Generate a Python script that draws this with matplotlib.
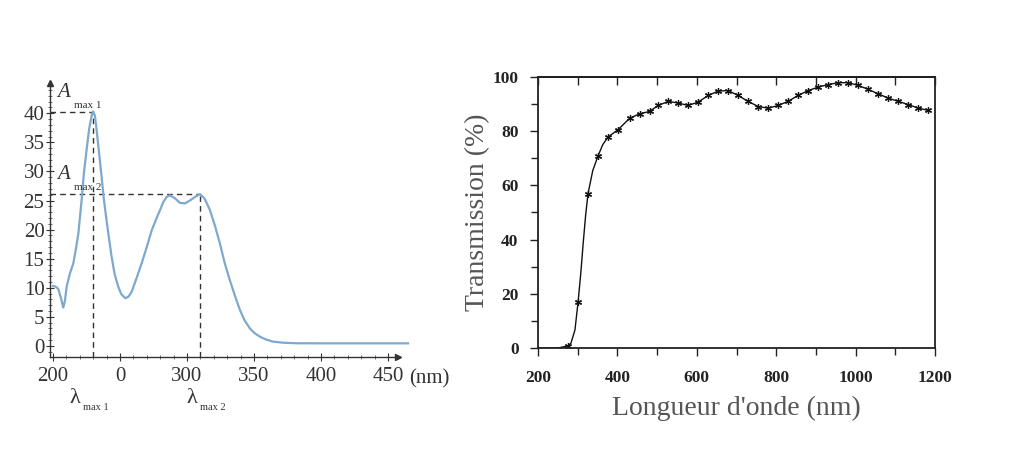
import matplotlib
matplotlib.use("Agg")
import matplotlib.pyplot as plt
from matplotlib.ticker import MultipleLocator

plt.rcParams['font.family'] = ['Liberation Serif', 'DejaVu Serif']
plt.rcParams['mathtext.fontset'] = 'stix'

# ---- Left chart data (absorbance spectrum) ----
abs_wl = [200, 202, 204, 206, 207.7, 209, 210.2, 212.7, 215.2, 217, 219, 221.4, 223,
          225.1, 227, 228.9, 230, 231.3, 232.6, 234.5, 236.3, 238, 240, 242, 243.8,
          246, 248.7, 251, 254, 256.5, 258.7, 262, 266.2, 270, 273.6, 277, 279.8,
          282.5, 284.8, 287.3, 291, 294.7, 298.5, 302.2, 306, 309.7, 313, 317.1,
          321, 324.6, 328, 332, 336, 339.5, 343, 347, 350.5, 354.4, 359, 364.3,
          372, 381.8, 400, 430, 465]
abs_val = [10.3, 10.2, 9.8, 8.2, 6.6, 7.8, 10.2, 12.5, 14.2, 16.5, 19.4, 25.1, 29.5,
           33.7, 37.3, 39.6, 40.3, 39.6, 37.1, 33.0, 29.1, 25.2, 21.6, 18.2, 15.3,
           12.4, 10.2, 8.9, 8.2, 8.5, 9.3, 11.4, 14.2, 17.0, 19.8, 21.8, 23.3, 24.8,
           25.6, 25.9, 25.4, 24.6, 24.5, 25.0, 25.6, 26.1, 25.4, 23.4, 20.6, 17.6,
           14.4, 11.3, 8.5, 6.2, 4.4, 3.0, 2.2, 1.6, 1.1, 0.74, 0.55, 0.46, 0.45,
           0.45, 0.45]
abs_xticks = [200, 250, 300, 350, 400, 450]
abs_xticklabels = ["200", "0", "300", "350", "400", "450"]
abs_yticks = [0, 5, 10, 15, 20, 25, 30, 35, 40]
lam_max1, A_max1 = 230, 40.3
lam_max2, A_max2 = 309.7, 26.2

# ---- Right chart data (transmission spectrum) ----
tr_wl = [200, 250, 276, 283, 293, 301, 308, 314, 320, 326, 338, 351, 363, 376, 402,
         431, 456, 481, 503, 528, 553, 578, 603, 629, 654, 679, 704, 729, 755, 780,
         805, 830, 855, 881, 906, 931, 956, 981, 1007, 1032, 1057, 1082, 1108,
         1133, 1158, 1183]
tr_val = [0, 0, 0.8, 1.8, 6.6, 17.0, 28, 39, 49, 57.0, 65.5, 70.8, 75, 77.8, 80.6,
          84.8, 86.4, 87.3, 89.5, 91, 90.4, 89.5, 90.7, 93.2, 94.8, 95, 93.2, 91,
          89.1, 88.5, 89.5, 91, 93.2, 95, 96.3, 97.2, 97.9, 97.9, 96.9, 95.4, 93.8,
          92.2, 91, 89.8, 88.5, 87.7]
tr_marked = [2, 5, 9, 11, 13] + list(range(14, len(tr_wl)))

fig = plt.figure(figsize=(10.26, 4.61), dpi=100)
W, H = 1026, 461

# ---------------- Left axes ----------------
lx0, lx1, ly_top, ly_bot = 50, 398, 83, 357
ax1 = fig.add_axes([lx0 / W, (H - ly_bot) / H, (lx1 - lx0) / W, (ly_bot - ly_top) / H])
ax1.set_xlim(197.8, 457.5)
ax1.set_ylim(-1.9, 45.2)
for s in ['top', 'right']:
    ax1.spines[s].set_visible(False)
for s in ['left', 'bottom']:
    ax1.spines[s].set_color('#333333')
    ax1.spines[s].set_linewidth(1.0)
ax1.plot(1, 0, '>', color='#333333', markersize=5, transform=ax1.transAxes, clip_on=False)
ax1.plot(0, 1, '^', color='#333333', markersize=5, transform=ax1.transAxes, clip_on=False)

ax1.plot(abs_wl, abs_val, color='#7ea9cf', lw=1.6, clip_on=False, zorder=3,
         solid_joinstyle='round')

ax1.set_xticks(abs_xticks)
ax1.set_xticklabels(abs_xticklabels)
ax1.set_yticks(abs_yticks)
ax1.xaxis.set_minor_locator(MultipleLocator(10))
ax1.yaxis.set_minor_locator(MultipleLocator(1))
ax1.tick_params(axis='both', which='major', direction='inout', length=6, width=0.8,
                colors='#333333', labelsize=15, labelcolor='#333333')
ax1.tick_params(axis='x', which='major', pad=4)
ax1.tick_params(axis='y', which='major', pad=1)
ax1.tick_params(axis='both', which='minor', direction='inout', length=3, width=0.6,
                colors='#555555')

dash = dict(color='#333333', lw=1.0, ls=(0, (4, 3)))
ax1.plot([197.8, lam_max1], [A_max1, A_max1], **dash)
ax1.plot([lam_max1, lam_max1], [-1.9, A_max1], **dash)
ax1.plot([197.8, lam_max2], [A_max2, A_max2], **dash)
ax1.plot([lam_max2, lam_max2], [-1.9, A_max2], **dash)

tc = '#333333'
ax1.text(203.5, 43.6, 'A', fontsize=15, style='italic', color=tc, va='center')
ax1.text(215.5, 41.3, 'max 1', fontsize=8, color=tc, va='center')
ax1.text(203.5, 29.4, 'A', fontsize=15, style='italic', color=tc, va='center')
ax1.text(215.5, 27.3, 'max 2', fontsize=8, color=tc, va='center')
ax1.text(481, -5.6, '(nm)', fontsize=15, color=tc, ha='center', va='center',
         clip_on=False)
ax1.text(216.4, -9.0, 'λ', fontsize=16, color=tc, ha='center', va='center',
         clip_on=False)
ax1.text(222.4, -10.6, 'max 1', fontsize=7.5, color=tc, va='center', clip_on=False)
ax1.text(303.7, -9.0, 'λ', fontsize=16, color=tc, ha='center', va='center',
         clip_on=False)
ax1.text(309.7, -10.6, 'max 2', fontsize=7.5, color=tc, va='center', clip_on=False)

# ---------------- Right axes ----------------
rx0, rx1, ry_top, ry_bot = 538, 935, 77, 348
ax2 = fig.add_axes([rx0 / W, (H - ry_bot) / H, (rx1 - rx0) / W, (ry_bot - ry_top) / H])
ax2.plot(tr_wl, tr_val, color='#111111', lw=1.0, marker=(6, 2, 0), markersize=5,
         markeredgewidth=0.9, markevery=tr_marked, solid_joinstyle='round')
ax2.set_xlim(200, 1200)
ax2.set_ylim(0, 100)
ax2.set_xticks([200, 400, 600, 800, 1000, 1200])
ax2.set_yticks([0, 20, 40, 60, 80, 100])
ax2.xaxis.set_minor_locator(MultipleLocator(100))
ax2.yaxis.set_minor_locator(MultipleLocator(10))
ax2.tick_params(axis='both', which='both', direction='out', colors='#222222', width=1.0)
ax2.tick_params(axis='both', which='major', length=6, labelsize=12.5)
ax2.tick_params(axis='x', which='major', pad=10)
ax2.tick_params(axis='y', which='major', pad=8)
ax2.tick_params(axis='both', which='minor', length=5)
# ticks on the top edge point inwards
sec = ax2.secondary_xaxis('top')
sec.set_xticks([200, 400, 600, 800, 1000, 1200])
sec.xaxis.set_minor_locator(MultipleLocator(100))
sec.tick_params(axis='x', which='both', direction='in', length=6, width=1.0,
                labeltop=False, colors='#222222')
sec.spines['top'].set_linewidth(1.3)
for lab in ax2.get_xticklabels() + ax2.get_yticklabels():
    lab.set_fontweight('bold')
for s in ax2.spines.values():
    s.set_linewidth(1.3)
    s.set_color('#222222')
ax2.set_xlabel("Longueur d'onde (nm)", fontsize=20, color='#555555', labelpad=7)
ax2.set_ylabel("Transmission (%)", fontsize=20, color='#555555', labelpad=2)

fig.savefig('out.png', dpi=100)
